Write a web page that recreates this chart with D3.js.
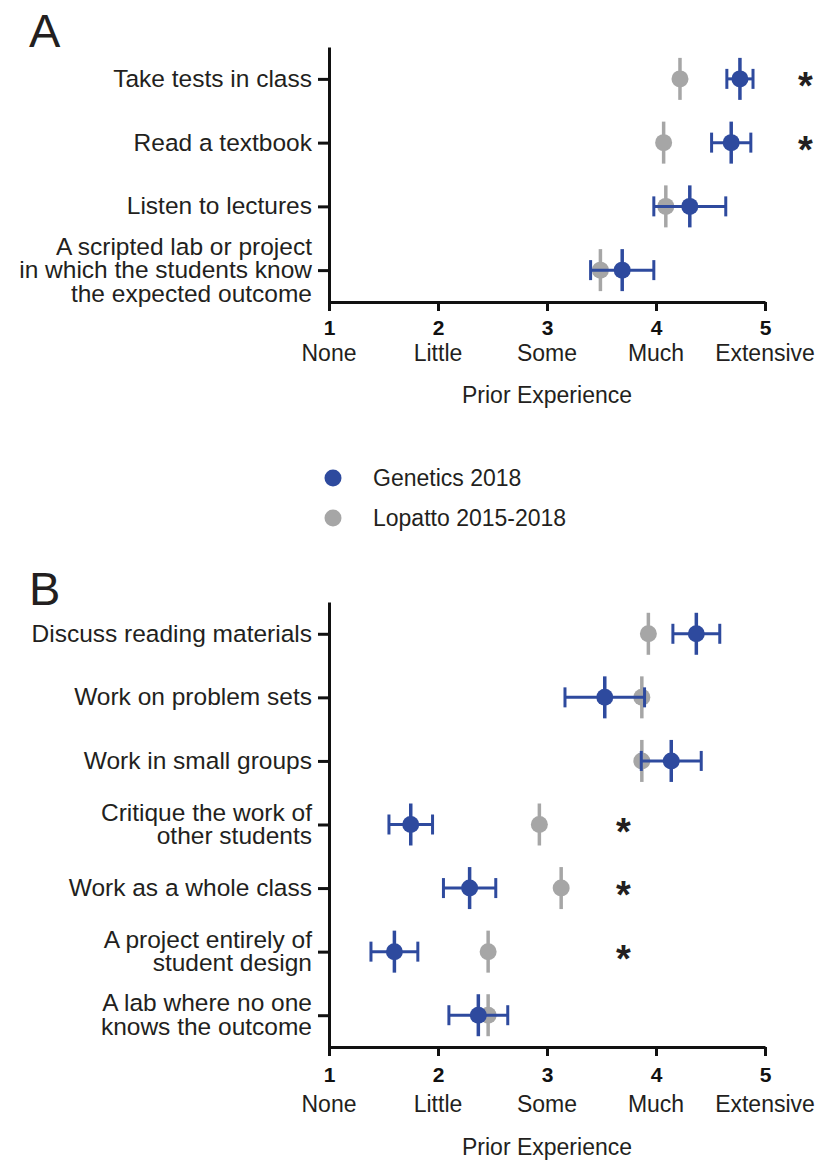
<!DOCTYPE html>
<html lang="en">
  <head>
    <meta charset="utf-8">
    <title>Prior Experience</title>
    <script type="text/javascript" src="https://d3js.org/d3.v7.min.js"></script>
    <style type="text/css">
      body { margin: 0; background: #fff; }
      text { font-family: "Liberation Sans", Arial, Helvetica, sans-serif; fill: #231f20; }
      .axis path, .axis line { stroke: #111; stroke-width: 3px; }
    </style>
  </head>
  <body>
    <div id="chart"></div>
    <script type="text/javascript">

      // x axis ticks
      var tickValues = [1, 2, 3, 4, 5];
      var tickNames = ["None", "Little", "Some", "Much", "Extensive"];
      var seriesNames = ["Genetics 2018", "Lopatto 2015-2018"];

      // panel A
      var labelsA = [
        ["Take tests in class"],
        ["Read a textbook"],
        ["Listen to lectures"],
        ["A scripted lab or project", "in which the students know", "the expected outcome"]
      ];
      var geneticsA = [4.77, 4.69, 4.31, 3.69];
      var geneticsErrA = [0.12, 0.18, 0.33, 0.29];
      var lopattoA = [4.22, 4.07, 4.09, 3.49];
      var sigA = [true, true, false, false];

      // panel B
      var labelsB = [
        ["Discuss reading materials"],
        ["Work on problem sets"],
        ["Work in small groups"],
        ["Critique the work of", "other students"],
        ["Work as a whole class"],
        ["A project entirely of", "student design"],
        ["A lab where no one", "knows the outcome"]
      ];
      var geneticsB = [4.37, 3.53, 4.14, 1.75, 2.29, 1.60, 2.37];
      var geneticsErrB = [0.215, 0.365, 0.275, 0.20, 0.24, 0.215, 0.27];
      var lopattoB = [3.93, 3.87, 3.87, 2.93, 3.13, 2.46, 2.46];
      var sigB = [false, false, false, true, true, true, false];

      var blue = "#2e4a9e";
      var gray = "#a6a6a6";

      var svg = d3.select("#chart").append("svg")
          .attr("width", 817)
          .attr("height", 1160);

      var x = d3.scaleLinear().domain([1, 5]).range([329, 765]);

      function drawPanel(opt) {
        var g = svg.append("g");
        var rows = d3.range(opt.labels.length);
        var y = d3.scalePoint().domain(rows).range([opt.top, opt.bottom]).padding(0.5);

        // panel letter
        g.append("text")
          .attr("x", 29)
          .attr("y", opt.letterY)
          .style("font-size", "47px")
          .text(opt.letter);

        // y axis
        var yAxis = g.append("g")
          .attr("class", "axis")
          .attr("transform", "translate(" + x(1) + ",0)")
          .call(d3.axisLeft(y).tickSize(11).tickSizeOuter(0).tickFormat(""));
        yAxis.selectAll("text").remove();

        // category labels, multi line
        var lineH = 23.5;
        g.selectAll(".catlabel")
          .data(rows)
          .enter()
          .append("text")
          .attr("class", "catlabel")
          .attr("text-anchor", "end")
          .style("font-size", "24.5px")
          .each(function(i) {
            var lines = opt.labels[i];
            var first = y(i) + 8 - (lines.length - 1) * lineH / 2;
            d3.select(this).selectAll("tspan")
              .data(lines)
              .enter()
              .append("tspan")
              .attr("x", 312)
              .attr("y", function(d, k) { return first + k * lineH; })
              .text(function(d) { return d; });
          });

        // x axis
        var xAxis = g.append("g")
          .attr("class", "axis")
          .attr("transform", "translate(0," + opt.bottom + ")")
          .call(d3.axisBottom(x).tickValues(tickValues).tickSize(9).tickSizeOuter(0).tickFormat(d3.format("d")));
        xAxis.selectAll("text")
          .attr("y", opt.numOff)
          .attr("dy", 0)
          .style("font-size", "21px")
          .style("font-weight", "bold")
          .style("fill", "#111");

        g.selectAll(".tickname")
          .data(tickValues)
          .enter()
          .append("text")
          .attr("class", "tickname")
          .attr("x", function(d) { return x(d); })
          .attr("y", opt.bottom + opt.nameOff)
          .attr("text-anchor", "middle")
          .style("font-size", "23px")
          .text(function(d, i) { return tickNames[i]; });

        g.append("text")
          .attr("x", (x(1) + x(5)) / 2)
          .attr("y", opt.bottom + opt.titleOff)
          .attr("text-anchor", "middle")
          .style("font-size", "23px")
          .text("Prior Experience");

        // Lopatto points (under)
        var lop = g.append("g");
        lop.selectAll("line")
          .data(rows)
          .enter()
          .append("line")
          .attr("x1", function(i) { return x(opt.lopatto[i]); })
          .attr("x2", function(i) { return x(opt.lopatto[i]); })
          .attr("y1", function(i) { return y(i) - 21; })
          .attr("y2", function(i) { return y(i) + 21; })
          .attr("stroke", gray)
          .attr("stroke-width", 3.5);
        lop.selectAll("circle")
          .data(rows)
          .enter()
          .append("circle")
          .attr("cx", function(i) { return x(opt.lopatto[i]); })
          .attr("cy", function(i) { return y(i); })
          .attr("r", 8.5)
          .attr("fill", gray);

        // Genetics points with error bars
        var gen = g.append("g")
          .selectAll("g")
          .data(rows)
          .enter()
          .append("g")
          .attr("stroke", blue)
          .attr("stroke-width", 3);
        gen.append("line")
          .attr("x1", function(i) { return x(opt.genetics[i] - opt.geneticsErr[i]); })
          .attr("x2", function(i) { return x(opt.genetics[i] + opt.geneticsErr[i]); })
          .attr("y1", function(i) { return y(i); })
          .attr("y2", function(i) { return y(i); });
        [-1, 1].forEach(function(s) {
          gen.append("line")
            .attr("x1", function(i) { return x(opt.genetics[i] + s * opt.geneticsErr[i]); })
            .attr("x2", function(i) { return x(opt.genetics[i] + s * opt.geneticsErr[i]); })
            .attr("y1", function(i) { return y(i) - 10; })
            .attr("y2", function(i) { return y(i) + 10; });
        });
        gen.append("line")
          .attr("x1", function(i) { return x(opt.genetics[i]); })
          .attr("x2", function(i) { return x(opt.genetics[i]); })
          .attr("y1", function(i) { return y(i) - 21; })
          .attr("y2", function(i) { return y(i) + 21; })
          .attr("stroke-width", 3.5);
        gen.append("circle")
          .attr("cx", function(i) { return x(opt.genetics[i]); })
          .attr("cy", function(i) { return y(i); })
          .attr("r", 8.5)
          .attr("stroke", "none")
          .attr("fill", blue);

        // significance stars
        g.selectAll(".star")
          .data(rows.filter(function(i) { return opt.sig[i]; }))
          .enter()
          .append("text")
          .attr("class", "star")
          .attr("x", x(opt.starX))
          .attr("y", function(i) { return y(i) + 20; })
          .attr("text-anchor", "middle")
          .style("font-size", "38px")
          .style("font-weight", "bold")
          .text("*");
      }

      drawPanel({
        letter: "A", letterY: 47,
        labels: labelsA, genetics: geneticsA, geneticsErr: geneticsErrA, lopatto: lopattoA, sig: sigA,
        top: 47, bottom: 302, starX: 5.37,
        numOff: 33, nameOff: 59, titleOff: 101
      });

      drawPanel({
        letter: "B", letterY: 605,
        labels: labelsB, genetics: geneticsB, geneticsErr: geneticsErrB, lopatto: lopattoB, sig: sigB,
        top: 602, bottom: 1047, starX: 3.70,
        numOff: 35, nameOff: 65, titleOff: 108
      });

      // legend
      var legend = svg.append("g")
        .selectAll("g")
        .data(seriesNames)
        .enter()
        .append("g")
        .attr("transform", function(d, i) { return "translate(333," + (478 + i * 40) + ")"; });
      legend.append("circle")
        .attr("r", 8.5)
        .attr("fill", function(d, i) { return i == 0 ? blue : gray; });
      legend.append("text")
        .attr("x", 40)
        .attr("y", 8)
        .style("font-size", "23px")
        .text(function(d) { return d; });

    </script>
  </body>
</html>
